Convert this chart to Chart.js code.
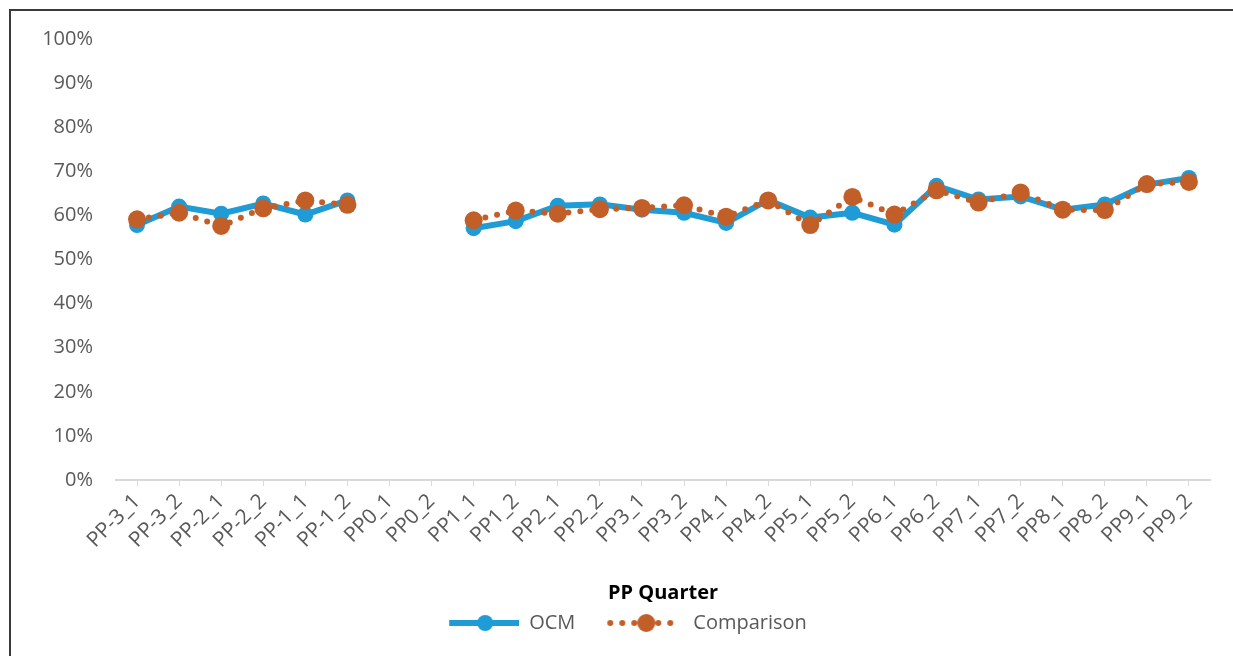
<!DOCTYPE html>
<html>
<head>
<meta charset="utf-8">
<script src="https://cdn.jsdelivr.net/npm/chart.js@4.4.1/dist/chart.umd.min.js"></script>
<style>
    html, body { margin: 0; padding: 0; background: #fff; }
    #wrap { position: relative; width: 1233px; height: 656px; overflow: hidden; }
    #frame { position: absolute; left: 9px; top: 9px; right: -5px; bottom: -5px;
             border-left: 2px solid #3a3a3a; border-top: 2px solid #3a3a3a; }
    #chart { position: absolute; left: 0; top: 0; }
</style>
</head>
<body>
<div id="wrap">
    <div id="frame"></div>
    <canvas id="chart" width="1233" height="656"></canvas>
</div>
<script>
// PP quarters along the x axis (PP0 has no data)
const categories = ['PP-3_1', 'PP-3_2', 'PP-2_1', 'PP-2_2', 'PP-1_1', 'PP-1_2', 'PP0_1', 'PP0_2',
    'PP1_1', 'PP1_2', 'PP2_1', 'PP2_2', 'PP3_1', 'PP3_2', 'PP4_1', 'PP4_2', 'PP5_1', 'PP5_2',
    'PP6_1', 'PP6_2', 'PP7_1', 'PP7_2', 'PP8_1', 'PP8_2', 'PP9_1', 'PP9_2'];

// values in percent
const ocmValues = [57.8, 62.0, 60.4, 62.7, 60.2, 63.4, null, null,
    57.1, 58.7, 62.2, 62.5, 61.3, 60.6, 58.3, 63.5, 59.5, 60.6,
    57.9, 66.7, 63.6, 64.3, 61.3, 62.5, 67.0, 68.5];
const comparisonValues = [59.1, 60.6, 57.6, 61.6, 63.4, 62.4, null, null,
    58.9, 61.1, 60.4, 61.4, 61.7, 62.3, 59.7, 63.4, 57.8, 64.2,
    60.2, 65.7, 62.9, 65.2, 61.3, 61.2, 67.1, 67.6];

const yTicks = [0, 10, 20, 30, 40, 50, 60, 70, 80, 90, 100];

const BLUE = '#1f9bd6';
const ORANGE = '#c25f29';
const TEXT = '#595959';
const FONT = "'Open Sans', 'DejaVu Sans', sans-serif";

// line + marker swatches for the legend (blank strip on the left acts as item gap)
function makeSwatch(color, dotted) {
    const c = document.createElement('canvas');
    c.width = 100;
    c.height = 22;
    const g = c.getContext('2d');
    g.strokeStyle = color;
    g.fillStyle = color;
    g.beginPath();
    if (dotted) {
        g.lineWidth = 6;
        g.lineCap = 'round';
        g.setLineDash([0, 12]);
        g.moveTo(27, 11);
        g.lineTo(97, 11);
    } else {
        g.lineWidth = 6;
        g.lineCap = 'butt';
        g.moveTo(30, 11);
        g.lineTo(100, 11);
    }
    g.stroke();
    g.setLineDash([]);
    g.beginPath();
    g.arc(dotted ? 63 : 66, 11, dotted ? 9 : 8, 0, Math.PI * 2);
    g.fill();
    return c;
}

const swatches = [makeSwatch(BLUE, false), makeSwatch(ORANGE, true)];

new Chart(document.getElementById('chart'), {
    type: 'line',
    data: {
        labels: categories,
        datasets: [{
            label: 'OCM',
            data: ocmValues,
            borderColor: BLUE,
            backgroundColor: BLUE,
            borderWidth: 6,
            pointRadius: 8,
            pointHoverRadius: 8,
            pointBorderWidth: 0,
            spanGaps: false,
            order: 1
        }, {
            label: 'Comparison',
            data: comparisonValues,
            borderColor: ORANGE,
            backgroundColor: ORANGE,
            borderWidth: 6,
            borderDash: [0, 12],
            borderCapStyle: 'round',
            pointRadius: 9,
            pointHoverRadius: 9,
            pointBorderWidth: 0,
            spanGaps: false,
            order: 0
        }]
    },
    options: {
        responsive: false,
        animation: false,
        layout: { padding: { left: 16, right: 23, top: 39, bottom: 13 } },
        plugins: {
            tooltip: { enabled: false },
            legend: {
                position: 'bottom',
                labels: {
                    usePointStyle: true,
                    pointStyleWidth: 100,
                    padding: 8,
                    color: TEXT,
                    font: { family: FONT, size: 20 },
                    generateLabels: (chart) => chart.data.datasets.map((ds, i) => ({
                        text: ds.label,
                        pointStyle: swatches[i],
                        fillStyle: ds.borderColor,
                        strokeStyle: ds.borderColor,
                        lineWidth: 0,
                        fontColor: TEXT,
                        datasetIndex: i,
                        hidden: false
                    }))
                }
            }
        },
        scales: {
            x: {
                offset: true,
                afterFit: (scale) => { scale.height = 125; },
                grid: {
                    offset: false,
                    display: true,
                    drawOnChartArea: false,
                    drawTicks: true,
                    tickLength: 6,
                    color: '#d9d9d9'
                },
                border: { display: true, color: '#d9d9d9', width: 2 },
                ticks: {
                    autoSkip: false,
                    maxRotation: 45,
                    minRotation: 45,
                    padding: 3,
                    color: TEXT,
                    font: { family: FONT, size: 21 }
                },
                title: {
                    display: true,
                    text: 'PP Quarter',
                    color: '#000',
                    font: { family: FONT, size: 20, weight: 'bold' },
                    padding: { top: 0, bottom: 0 }
                }
            },
            y: {
                min: 0,
                max: 100,
                afterBuildTicks: (scale) => {
                    scale.ticks = yTicks.map(v => ({ value: v }));
                },
                afterFit: (scale) => { scale.width = 100; },
                grid: { display: false, drawTicks: false },
                border: { display: false },
                ticks: {
                    padding: 23,
                    color: TEXT,
                    font: { family: FONT, size: 20 },
                    callback: (v) => v + '%'
                }
            }
        }
    }
});
</script>
</body>
</html>
